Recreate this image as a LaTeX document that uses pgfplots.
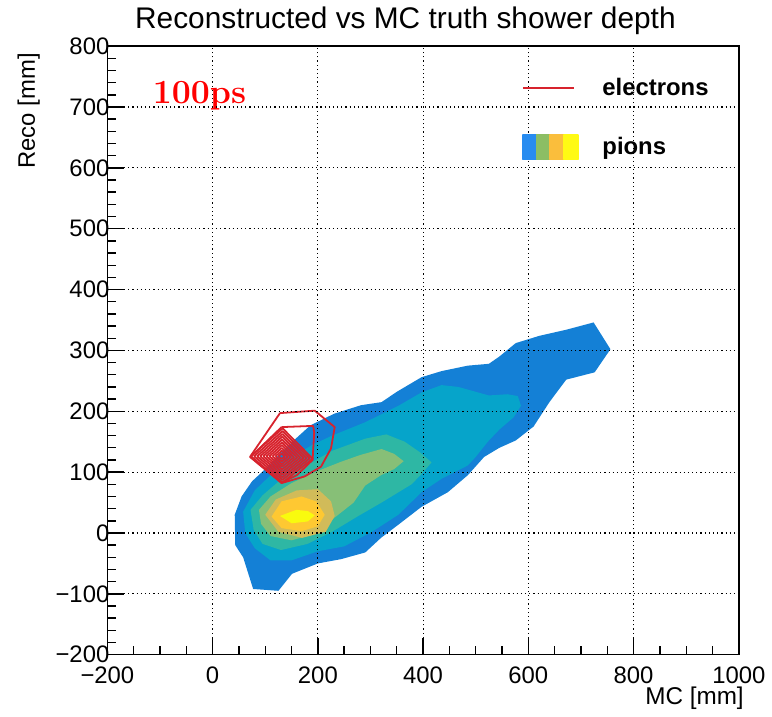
\documentclass[border=0pt]{standalone}
\usepackage{fontspec}
\setsansfont{Liberation Sans}
\usepackage{pgfplots}
\pgfplotsset{compat=1.18}

% ROOT kBird palette levels used for the pion contours
\definecolor{lvA}{RGB}{20,128,214}
\definecolor{lvB}{RGB}{6,164,202}
\definecolor{lvC}{RGB}{46,183,164}
\definecolor{lvD}{RGB}{135,191,119}
\definecolor{lvE}{RGB}{209,187,89}
\definecolor{lvF}{RGB}{254,200,50}
\definecolor{lvG}{RGB}{249,251,14}
\definecolor{elred}{RGB}{215,35,45}
\definecolor{lgA}{RGB}{40,140,240}
\definecolor{lgB}{RGB}{140,190,100}
\definecolor{lgC}{RGB}{250,190,60}
\definecolor{lgD}{RGB}{255,250,20}

\begin{document}
\begin{tikzpicture}[font=\sffamily]
\begin{axis}[
  name=ax,
  scale only axis,
  width=317.5pt, height=306pt,
  xmin=-200, xmax=1000, ymin=-200, ymax=800,
  axis on top,
  axis line style={line width=0.75pt},
  tick align=inside,
  xtick pos=bottom, ytick pos=left,
  xtick={-200,0,200,400,600,800,1000},
  xticklabels={−200,0,200,400,600,800,1000},
  ytick={-200,-100,0,100,200,300,400,500,600,700,800},
  yticklabels={−200,−100,0,100,200,300,400,500,600,700,800},
  minor x tick num=3, minor y tick num=4,
  major tick length=8.5pt, minor tick length=4.3pt,
  every tick/.style={black, line width=0.7pt},
  tick label style={font=\sffamily\fontsize{12}{14}\selectfont},
  xticklabel style={yshift=-2.5pt},
  yticklabel style={xshift=4.5pt},
  grid=major,
  major grid style={black, line width=0.6pt, dash pattern=on 0.6pt off 1.5pt},
  title={Reconstructed vs MC truth shower depth},
  title style={at={(rel axis cs:0.472,1)}, anchor=base, yshift=3pt,
    font=\sffamily\fontsize{15}{18}\selectfont},
  xlabel={MC [mm]},
  xlabel style={at={(rel axis cs:1,0)}, anchor=base east, yshift=-25pt, xshift=6pt,
    font=\sffamily\fontsize{12.2}{14}\selectfont},
  ylabel={Reco [mm]},
  ylabel style={at={(rel axis cs:0,1)}, anchor=base east, yshift=36.5pt,
    font=\sffamily\fontsize{12}{14}\selectfont},
  legend style={at={(rel axis cs:0.655,0.955)}, anchor=north west,
    draw=none, fill=none, inner sep=0pt,
    font=\sffamily\bfseries\fontsize{12}{14}\selectfont, row sep=15.5pt,
    /tikz/every odd column/.append style={column sep=10pt}},
  legend cell align=left,
]

% pions: filled contour levels, outermost first
\addplot[fill=lvA, draw=none, forget plot] coordinates {
 (42,30) (55,60) (75,85) (100,105) (125,128) (154,152) (186,177) (231,196)
 (282,210) (321,215) (350,232) (397,256) (435,266) (485,275) (525,278)
 (545,290) (576,312) (621,324) (672,334) (724,346) (756,302) (726,264)
 (672,252) (640,215) (610,175) (576,152) (545,140) (516,125) (485,95)
 (447,67) (397,43) (355,15) (320,-8) (290,-32) (244,-43) (200,-50)
 (151,-67) (125,-95) (77,-92) (58,-40) (43,-20) (42,30)};
\addplot[fill=lvB, draw=none, forget plot] coordinates {
 (58,35) (80,70) (110,95) (150,125) (190,145) (227,160) (290,182) (353,209)
 (397,231) (435,243) (467,240) (500,232) (525,226) (560,228) (580,225)
 (586,209) (572,190) (545,170) (523,150) (500,125) (485,111) (435,89)
 (397,67) (353,30) (303,2) (250,-22) (200,-30) (150,-45) (110,-45)
 (80,-25) (62,0) (58,35)};
\addplot[fill=lvC, draw=none, forget plot] coordinates {
 (72,38) (95,62) (130,88) (180,112) (227,135) (290,155) (330,162) (365,150)
 (395,132) (416,116) (395,95) (378,80) (321,50) (277,28) (227,2) (180,-18)
 (130,-28) (95,-18) (78,5) (72,38)};
\addplot[fill=lvD, draw=none, forget plot] coordinates {
 (88,38) (110,60) (150,82) (200,102) (244,117) (280,128) (321,138) (345,130)
 (363,118) (345,105) (320,95) (290,78) (268,50) (227,22) (190,-3) (150,-12)
 (110,-5) (92,15) (88,38)};
\addplot[fill=lvE, draw=none, forget plot] coordinates {
 (100,30) (120,55) (160,70) (200,72) (225,52) (232,28) (215,2) (170,-8)
 (125,2) (100,30)};
\addplot[fill=lvF, draw=none, forget plot] coordinates {
 (112,27) (131,52) (169,60) (197,52) (213,30) (200,11) (169,3) (131,8)
 (112,27)};
\addplot[fill=lvG, draw=none, forget plot] coordinates {
 (128,28) (159,38) (181,36) (194,29) (181,19) (150,16) (128,28)};

% electrons: contour lines
\pgfplotsset{every axis plot/.append style={draw=elred, line width=0.9pt, line join=round}}
\addplot[forget plot] coordinates {
 (128,197) (194,201) (232,174) (225,139) (206,109) (175,93) (131,82) (71,125) (128,197)};
\addplot[forget plot] coordinates {
 (131,174) (191,176) (193,165) (190,120) (160,95) (131,83) (72,125) (131,174)};
\addplot[forget plot] coordinates {(73,126) (133,172) (190,122) (133,83) (73,126)};
\addplot[forget plot] coordinates {(78.8,126) (132.8,167.4) (184.1,122.4) (132.8,87.3) (78.8,126)};
\addplot[forget plot] coordinates {(84.6,126) (132.6,162.8) (178.2,122.8) (132.6,91.6) (84.6,126)};
\addplot[forget plot] coordinates {(90.4,126) (132.4,158.2) (172.3,123.2) (132.4,95.9) (90.4,126)};
\addplot[forget plot] coordinates {(96.2,126) (132.2,153.6) (166.4,123.6) (132.2,100.2) (96.2,126)};
\addplot[forget plot] coordinates {(102,126) (132,149) (160.5,124) (132,104.5) (102,126)};
\addplot[forget plot] coordinates {(107.8,126) (131.8,144.4) (154.6,124.4) (131.8,108.8) (107.8,126)};
\addplot[forget plot] coordinates {(113.6,126) (131.6,139.8) (148.7,124.8) (131.6,113.1) (113.6,126)};
\addplot[forget plot] coordinates {(119.4,126) (131.4,135.2) (142.8,125.2) (131.4,117.4) (119.4,126)};
\addplot[forget plot] coordinates {(125.2,126) (131.2,130.6) (136.9,125.6) (131.2,121.7) (125.2,126)};

% legend
\addlegendimage{legend image code/.code={
  \draw[elred, line width=1.4pt] (0pt,0pt) -- (26pt,0pt);}}
\addlegendentry{electrons}
\addlegendimage{legend image code/.code={
  \fill[lgA] (0pt,-6.2pt) rectangle (6.9pt,6.2pt);
  \fill[lgB] (6.9pt,-6.2pt) rectangle (13.8pt,6.2pt);
  \fill[lgC] (13.8pt,-6.2pt) rectangle (20.7pt,6.2pt);
  \fill[lgD] (20.7pt,-6.2pt) rectangle (27.6pt,6.2pt);}}
\addlegendentry{pions}

\node[anchor=base west, text=red, font=\rmfamily\bfseries\fontsize{17}{19}\selectfont]
  at (axis cs:-127,706) {100ps};
\end{axis}
\path (ax.south west) ++(-54pt,-26.5pt) rectangle ++(386pt,355pt);
\end{tikzpicture}
\end{document}
